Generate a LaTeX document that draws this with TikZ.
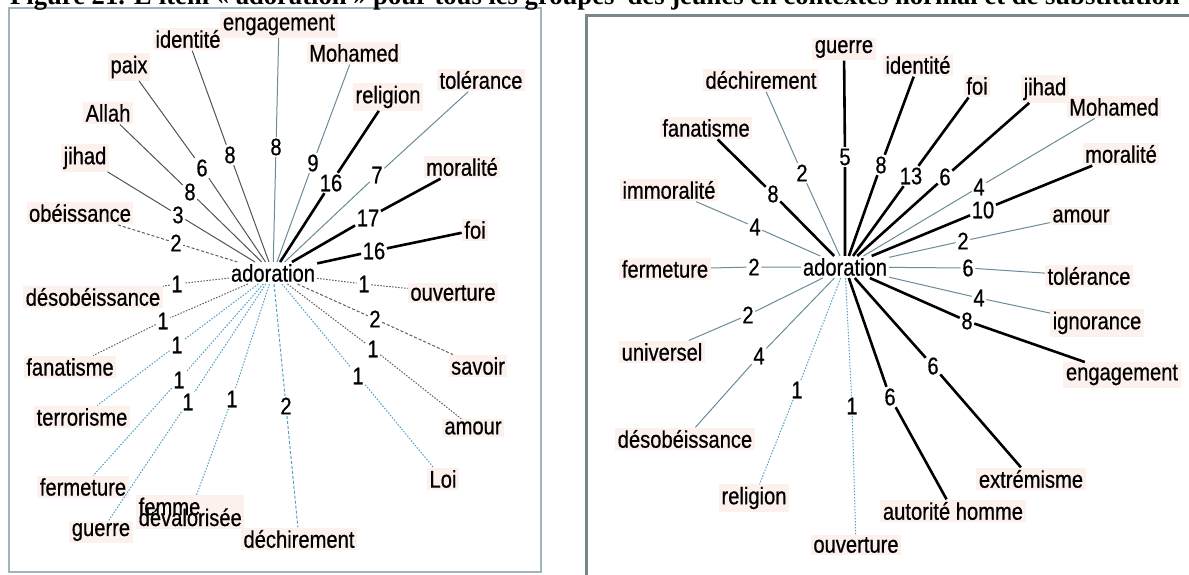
\documentclass[tikz,border=0pt]{standalone}
\usepackage{fontspec}
\setmainfont{Liberation Sans}[FakeStretch=0.84,FakeBold=0.6]
\newfontfamily\ttlfont{Liberation Serif}
\newcommand\lblfont{\fontsize{24}{26}\selectfont}
\newcommand\numfont{\fontsize{24}{26}\selectfont}
\definecolor{halo}{RGB}{253,241,237}
\definecolor{gray1}{RGB}{80,84,88}
\definecolor{bluegray}{RGB}{105,140,152}
\definecolor{dotgray}{RGB}{90,95,100}
\definecolor{dotblue}{RGB}{80,160,200}
\definecolor{boxL}{RGB}{160,180,190}
\definecolor{boxR}{RGB}{120,135,140}
\begin{document}
\begin{tikzpicture}[x=1pt,y=-1pt,
  word/.style={font=\lblfont, fill=halo, inner sep=2.5pt},
  num/.style={font=\numfont, inner sep=1.5pt},
  hub/.style={font=\lblfont, fill=white, inner sep=2pt},
  thk/.style={line width=2.6pt, black},
  thn/.style={line width=1pt, gray1},
  thb/.style={line width=1pt, bluegray},
  dotg/.style={line width=1pt, dotgray, dash pattern=on 1.5pt off 1.5pt},
  dotb/.style={line width=1pt, dotblue, dash pattern=on 1.5pt off 1.5pt},
  dashg/.style={line width=1pt, dotgray, dash pattern=on 3pt off 2pt},
  dashb/.style={line width=1pt, dotblue, dash pattern=on 3pt off 2pt}]
\useasboundingbox (0,0) rectangle (1189,574);
\fill[white] (0,0) rectangle (1189,574);
% frames
\draw[boxL, line width=1.5pt] (9,8) rectangle (541,572);
\draw[boxR, line width=3pt] (586,15) rectangle (1210,600);
% title
\node[anchor=base west, inner sep=0, font=\ttlfont\bfseries\fontsize{26.6}{28}\selectfont] (title) at (10,4)
  {Figure 21. L'item « adoration » pour tous les groupes~ des jeunes en contextes normal et de substitution};

% ---------------- left diagram ----------------
\node[hub] (LA) at (273,273) {adoration};
\node[word] (Lw1) at (279,25) {engagement};   \node[num] (Ln1) at (276,147) {8};
\node[word] (Lw2) at (188,39) {identité};     \node[num] (Ln2) at (230,155) {8};
\node[word] (Lw3) at (129,67) {paix};         \node[num] (Ln3) at (202,168) {6};
\node[word] (Lw4) at (108,113) {Allah};       \node[num] (Ln4) at (190,192) {8};
\node[word] (Lw5) at (85,158) {jihad};        \node[num] (Ln5) at (178,215) {3};
\node[word] (Lw6) at (80,213) {obéissance};   \node[num] (Ln6) at (176,243) {2};
\node[word] (Lw7) at (354,53) {Mohamed};      \node[num] (Ln7) at (313,163) {9};
\node[word] (Lw8) at (388,97) {religion};     \node[num] (Ln8) at (331,183) {16};
\node[word] (Lw9) at (481,80) {tolérance};    \node[num] (Ln9) at (377,175) {7};
\node[word] (Lw10) at (462,167) {moralité};   \node[num] (Ln10) at (368,218) {17};
\node[word] (Lw11) at (475,230) {foi};        \node[num] (Ln11) at (374,251) {16};
\node[word] (Lw12) at (93,297) {désobéissance}; \node[num] (Ln12) at (177,284) {1};
\node[word] (Lw13) at (453,293) {ouverture};  \node[num] (Ln13) at (364,284) {1};
\node[word] (Lw14) at (70,367) {fanatisme};   \node[num] (Ln14) at (163,321) {1};
\node[word] (Lw15) at (82,417) {terrorisme};  \node[num] (Ln15) at (177,345) {1};
\node[word] (Lw16) at (83,487) {fermeture};   \node[num] (Ln16) at (179,380) {1};
\node[word] (Lw17) at (101,532) {guerre};     \node[num] (Ln17) at (188,402) {1};
\node[word, anchor=base west] (Lw18) at (136,526)
  {\vbox{\baselineskip=11pt\lineskiplimit=-50pt\hbox{femme}\hbox{dévalorisée}}};
\node[num] (Ln18) at (232,399) {1};
\node[word] (Lw19) at (299,539) {déchirement}; \node[num] (Ln19) at (286,406) {2};
\node[word] (Lw20) at (478,366) {savoir};     \node[num] (Ln20) at (375,319) {2};
\node[word] (Lw21) at (473,428) {amour};      \node[num] (Ln21) at (373,349) {1};
\node[word] (Lw22) at (443,479) {Loi};        \node[num] (Ln22) at (358,376) {1};

\draw[thb] (LA) -- (Ln1) -- (Lw1);
\draw[thn] (LA) -- (Ln2) -- (Lw2);
\draw[thn] (LA) -- (Ln3) -- (Lw3);
\draw[thn] (LA) -- (Ln4) -- (Lw4);
\draw[thn] (LA) -- (Ln5) -- (Lw5);
\draw[dashg] (LA) -- (Ln6) -- (Lw6);
\draw[thb] (LA) -- (Ln7) -- (Lw7);
\draw[thk] (LA) -- (Ln8) -- (Lw8);
\draw[thb] (LA) -- (Ln9) -- (Lw9);
\draw[thk] (LA) -- (Ln10) -- (Lw10);
\draw[thk] (LA) -- (Ln11) -- (Lw11);
\draw[dotg] (LA) -- (Ln12) -- (Lw12);
\draw[dotg] (LA) -- (Ln13) -- (Lw13);
\draw[dotg] (LA) -- (Ln14) -- (Lw14);
\draw[dotb] (LA) -- (Ln15) -- (Lw15);
\draw[dotb] (LA) -- (Ln16) -- (Lw16);
\draw[dotb] (LA) -- (Ln17) -- (Lw17);
\draw[dotb] (LA) -- (Ln18) -- (Lw18);
\draw[dashb] (LA) -- (Ln19) -- (Lw19);
\draw[dashg] (LA) -- (Ln20) -- (Lw20);
\draw[dotg] (LA) -- (Ln21) -- (Lw21);
\draw[dotb] (LA) -- (Ln22) -- (Lw22);

% ---------------- right diagram ----------------
\node[hub] (RA) at (845,267) {adoration};
\node[word] (Rw1) at (844,49) {guerre};        \node[num] (Rn1) at (845,157) {5};
\node[word] (Rw2) at (761,80) {déchirement};   \node[num] (Rn2) at (802,173) {2};
\node[word] (Rw3) at (918,65) {identité};      \node[num] (Rn3) at (881,165) {8};
\node[word] (Rw4) at (977,86) {foi};           \node[num] (Rn4) at (911,176) {13};
\node[word] (Rw5) at (1045,89) {jihad};        \node[num] (Rn5) at (945,177) {6};
\node[word] (Rw6) at (1114,107) {Mohamed};     \node[num] (Rn6) at (979,187) {4};
\node[word] (Rw7) at (1121,154) {moralité};    \node[num] (Rn7) at (983,210) {10};
\node[word] (Rw8) at (1081,216) {amour};       \node[num] (Rn8) at (963,241) {2};
\node[word] (Rw9) at (1089,276) {tolérance};   \node[num] (Rn9) at (968,268) {6};
\node[word] (Rw10) at (1097,323) {ignorance};  \node[num] (Rn10) at (979,298) {4};
\node[word] (Rw11) at (1122,375) {engagement}; \node[num] (Rn11) at (967,321) {8};
\node[word] (Rw12) at (1031,479) {extrémisme}; \node[num] (Rn12) at (933,366) {6};
\node[word] (Rw13) at (953,511) {autorité homme}; \node[num] (Rn13) at (890,397) {6};
\node[word] (Rw14) at (856,545) {ouverture};   \node[num] (Rn14) at (852,406) {1};
\node[word] (Rw15) at (754,498) {religion};    \node[num] (Rn15) at (797,390) {1};
\node[word] (Rw16) at (685,439) {désobéissance}; \node[num] (Rn16) at (759,356) {4};
\node[word] (Rw17) at (662,352) {universel};   \node[num] (Rn17) at (748,315) {2};
\node[word] (Rw18) at (665,269) {fermeture};   \node[num] (Rn18) at (754,267) {2};
\node[word] (Rw19) at (669,190) {immoralité};  \node[num] (Rn19) at (755,227) {4};
\node[word] (Rw20) at (706,128) {fanatisme};   \node[num] (Rn20) at (773,194) {8};

\draw[thk] (RA) -- (Rn1) -- (Rw1);
\draw[thb] (RA) -- (Rn2) -- (Rw2);
\draw[thk] (RA) -- (Rn3) -- (Rw3);
\draw[thk] (RA) -- (Rn4) -- (Rw4);
\draw[thk] (RA) -- (Rn5) -- (Rw5);
\draw[thb] (RA) -- (Rn6) -- (Rw6);
\draw[thk] (RA) -- (Rn7) -- (Rw7);
\draw[thb] (RA) -- (Rn8) -- (Rw8);
\draw[thb] (RA) -- (Rn9) -- (Rw9);
\draw[thb] (RA) -- (Rn10) -- (Rw10);
\draw[thk] (RA) -- (Rn11) -- (Rw11);
\draw[thk] (RA) -- (Rn12) -- (Rw12);
\draw[thk] (RA) -- (Rn13) -- (Rw13);
\draw[dotb] (RA) -- (Rn14) -- (Rw14);
\draw[dotb] (RA) -- (Rn15) -- (Rw15);
\draw[thb] (RA) -- (Rn16) -- (Rw16);
\draw[thb] (RA) -- (Rn17) -- (Rw17);
\draw[thb] (RA) -- (Rn18) -- (Rw18);
\draw[thb] (RA) -- (Rn19) -- (Rw19);
\draw[thk] (RA) -- (Rn20) -- (Rw20);
\end{tikzpicture}
\end{document}
